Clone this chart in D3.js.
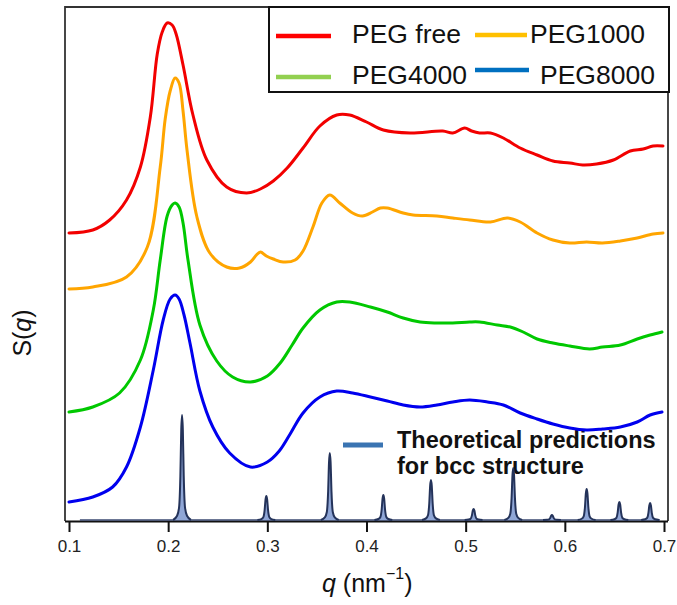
<!DOCTYPE html>
<html><head><meta charset="utf-8">
<script src="https://cdn.jsdelivr.net/npm/d3@7"></script>
<style>
html,body{margin:0;padding:0;background:#fff;}
svg{display:block;}
</style></head>
<body>
<svg id="chart" width="677" height="605"></svg>
<script>
// ---- data (arbitrary S(q) units, curves offset vertically as in the figure) ----
const xTicks = [0.1, 0.2, 0.3, 0.4, 0.5, 0.6, 0.7];
const seriesNames = ["PEG free", "PEG1000", "PEG4000", "PEG8000"];

const pegFree = [[0.100,288],[0.124,291],[0.141,301],[0.158,321],[0.172,354],[0.182,404],[0.189,467],[0.194,489],[0.199,498],[0.204,496],[0.208,487],[0.215,456],[0.225,406],[0.239,361],[0.259,334],[0.279,328],[0.293,332],[0.306,340],[0.320,353],[0.336,373],[0.353,395],[0.370,406],[0.383,406],[0.400,399],[0.417,391],[0.444,388],[0.477,390],[0.487,388],[0.499,393],[0.506,390],[0.514,388],[0.525,388],[0.538,383],[0.555,373],[0.572,366],[0.588,360],[0.605,358],[0.618,356],[0.632,357],[0.649,361],[0.666,370],[0.679,372],[0.689,375],[0.699,375]];

const peg1000 = [[0.100,232],[0.124,234],[0.158,244],[0.179,274],[0.192,354],[0.197,402],[0.202,430],[0.207,443],[0.211,438],[0.215,410],[0.219,371],[0.229,304],[0.242,268],[0.259,254],[0.272,253],[0.283,259],[0.289,266],[0.293,269],[0.299,265],[0.306,262],[0.316,259],[0.328,261],[0.336,270],[0.346,294],[0.355,318],[0.363,326],[0.373,318],[0.386,308],[0.396,305],[0.406,309],[0.414,313],[0.421,313],[0.437,308],[0.447,306],[0.471,305],[0.487,303],[0.504,301],[0.525,299],[0.542,303],[0.555,299],[0.572,288],[0.588,281],[0.605,278],[0.622,279],[0.638,278],[0.656,280],[0.673,283],[0.689,287],[0.699,288]];

const peg4000 = [[0.100,109],[0.124,114],[0.151,128],[0.172,161],[0.185,211],[0.192,261],[0.199,305],[0.204,316],[0.207,318],[0.211,314],[0.215,298],[0.220,261],[0.232,196],[0.249,160],[0.265,144],[0.283,139],[0.300,145],[0.313,158],[0.325,176],[0.336,193],[0.353,211],[0.370,219],[0.383,219],[0.404,214],[0.421,209],[0.437,203],[0.454,199],[0.471,198],[0.487,198],[0.504,199],[0.514,199],[0.532,196],[0.545,194],[0.558,189],[0.572,182],[0.588,178],[0.605,175],[0.625,172],[0.638,174],[0.656,176],[0.673,182],[0.686,186],[0.698,189]];

const peg8000 = [[0.100,19],[0.124,24],[0.144,34],[0.158,54],[0.172,94],[0.185,151],[0.195,201],[0.202,222],[0.207,226],[0.211,222],[0.216,206],[0.222,178],[0.232,130],[0.245,94],[0.262,68],[0.283,54],[0.300,59],[0.312,70],[0.323,87],[0.336,108],[0.353,124],[0.370,130],[0.386,128],[0.404,124],[0.421,120],[0.437,116],[0.454,114],[0.471,116],[0.487,119],[0.504,121],[0.522,119],[0.538,116],[0.555,108],[0.572,102],[0.588,97],[0.605,93],[0.622,91],[0.638,92],[0.656,94],[0.673,99],[0.686,106],[0.698,109]];

// theoretical bcc peak positions and heights
const bccQ = [0.214, 0.299, 0.363, 0.417, 0.465, 0.508, 0.548, 0.587, 0.622, 0.655, 0.686];
const bccH = [106, 25, 68, 26, 41, 12, 53, 6, 32, 19, 18];
const bccBaseline = [[0.111, 1], [0.696, 1]];

// ---- layout / style ----
const svg = d3.select("#chart");
const x = d3.scaleLinear().domain([0.1, 0.7]).range([69, 664]);
const y = d3.scaleLinear().domain([0, 514]).range([521, 7]);
const frame = {left: 65, right: 668, top: 7, bottom: 521};

const colors = {free: "#f20000", p1000: "#ffa500", p4000: "#00c800", p8000: "#0000ee"};
const legendColors = ["#ff0000", "#ffc000", "#92d050", "#0070c0"];

// frame
svg.append("path")
  .attr("d", `M${frame.left},${frame.bottom} V${frame.top} H${frame.right} V${frame.bottom}`)
  .attr("fill", "none").attr("stroke", "#333").attr("stroke-width", 1.8);

// x axis
const xAxis = svg.append("g").attr("transform", `translate(0,${frame.bottom})`)
  .call(d3.axisBottom(x).tickValues(xTicks).tickSize(11).tickPadding(8).tickFormat(d3.format(".1f")));
xAxis.select(".domain").attr("d", `M${frame.left},0.5H${frame.right}`).attr("stroke", "#111").attr("stroke-width", 2);
xAxis.selectAll(".tick line").attr("stroke", "#111").attr("stroke-width", 2);
xAxis.selectAll(".tick text").attr("font-family", "'Liberation Sans Narrow','Liberation Sans',Arial,sans-serif")
  .attr("font-size", 17).attr("fill", "#222");

// axis titles
const xt = svg.append("text").attr("x", 322).attr("y", 592)
  .attr("font-family", "'Liberation Sans',Arial,sans-serif").attr("font-size", 25).attr("fill", "#111");
xt.append("tspan").attr("font-style", "italic").text("q");
xt.append("tspan").text(" (nm");
xt.append("tspan").attr("font-size", 16).attr("dy", -13).text("−1");
xt.append("tspan").attr("dy", 13).text(")");

const yt = svg.append("text").attr("transform", "translate(31,333) rotate(-90)")
  .attr("text-anchor", "middle").attr("font-family", "'Liberation Sans',Arial,sans-serif")
  .attr("font-size", 25).attr("fill", "#111");
yt.append("tspan").text("S(");
yt.append("tspan").attr("font-style", "italic").text("q");
yt.append("tspan").text(")");

// theoretical label
const th = svg.append("g").attr("font-family", "'Liberation Sans',Arial,sans-serif")
  .attr("font-weight", "bold").attr("font-size", 23.5).attr("fill", "#111");
th.append("text").attr("x", 397).attr("y", 448).text("Theoretical predictions");
th.append("text").attr("x", 397).attr("y", 474).text("for bcc structure");
svg.append("line").attr("x1", 343).attr("x2", 383).attr("y1", 445).attr("y2", 445)
  .attr("stroke", "#3a74b2").attr("stroke-width", 5);

// theoretical peaks
const peakShape = [[-0.009,0],[-0.005,0.04],[-0.003,0.12],[-0.0017,0.42],[-0.0008,0.86],[0,1],[0.0008,0.86],[0.0017,0.42],[0.003,0.12],[0.005,0.04],[0.009,0]];
const peakLine = d3.line().x(d => x(d[0])).y(d => y(d[1])).curve(d3.curveMonotoneX);
svg.append("path").attr("d", peakLine(bccBaseline)).attr("fill", "none")
  .attr("stroke", "#3b4a72").attr("stroke-width", 1.6);
bccQ.forEach((q, i) => {
  const pts = peakShape.map(s => [q + s[0], 1 + s[1] * (bccH[i] - 1)]);
  svg.append("path").attr("d", peakLine(pts))
    .attr("fill", "#8fa6d6").attr("stroke", "#24335a").attr("stroke-width", 2)
    .attr("stroke-linejoin", "round");
});

// curves
const line = d3.line().x(d => x(d[0])).y(d => y(d[1])).curve(d3.curveCatmullRom.alpha(0.5));
[[peg8000, colors.p8000], [peg4000, colors.p4000], [peg1000, colors.p1000], [pegFree, colors.free]]
  .forEach(([data, c]) => {
    svg.append("path").attr("d", line(data)).attr("fill", "none")
      .attr("stroke", c).attr("stroke-width", 3).attr("stroke-linejoin", "round").attr("stroke-linecap", "round");
  });

// legend
const lg = svg.append("g");
lg.append("rect").attr("x", 269).attr("y", 7).attr("width", 400).attr("height", 85)
  .attr("fill", "#fff").attr("stroke", "#111").attr("stroke-width", 2);
const legendItems = [
  {name: seriesNames[0], c: legendColors[0], x1: 276, x2: 331, ly: 36, tx: 352, ty: 43},
  {name: seriesNames[1], c: legendColors[1], x1: 475, x2: 527, ly: 35, tx: 530, ty: 43},
  {name: seriesNames[2], c: legendColors[2], x1: 276, x2: 331, ly: 77, tx: 352, ty: 84},
  {name: seriesNames[3], c: legendColors[3], x1: 475, x2: 529, ly: 70, tx: 540, ty: 84}
];
legendItems.forEach(d => {
  lg.append("line").attr("x1", d.x1).attr("x2", d.x2).attr("y1", d.ly).attr("y2", d.ly)
    .attr("stroke", d.c).attr("stroke-width", 4.5);
  lg.append("text").attr("x", d.tx).attr("y", d.ty).text(d.name)
    .attr("font-family", "'Liberation Sans',Arial,sans-serif").attr("font-size", 26.5).attr("fill", "#111");
});
</script>
</body></html>
